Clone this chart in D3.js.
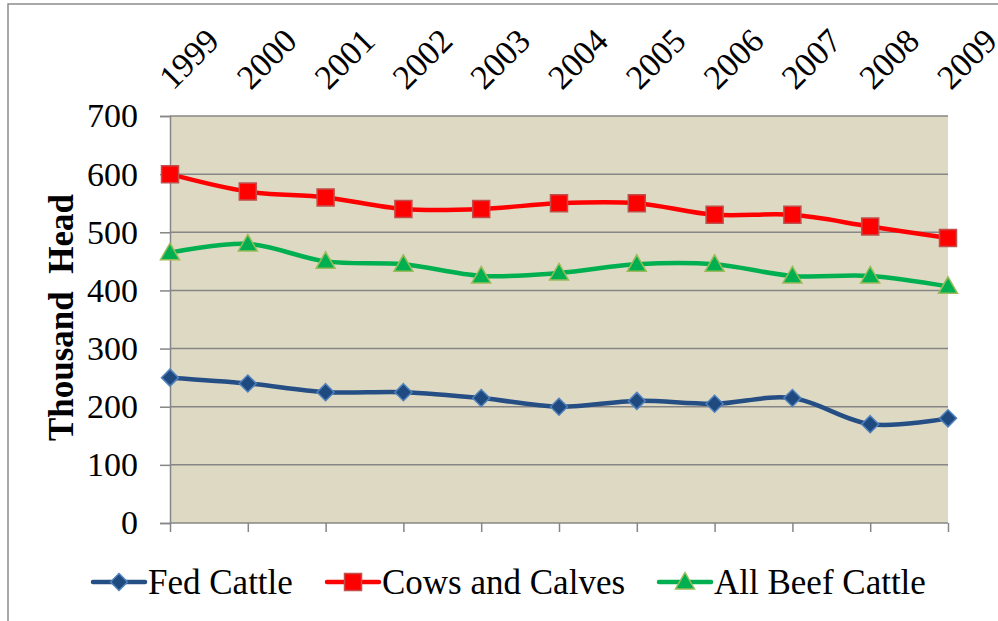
<!DOCTYPE html>
<html><head><meta charset="utf-8">
<script src="https://cdn.jsdelivr.net/npm/d3@7"></script>
<style>body{margin:0;background:#fff;}svg{display:block;}</style>
</head><body>
<svg id="c" width="998" height="621"></svg>
<script>
const years = ["1999","2000","2001","2002","2003","2004","2005","2006","2007","2008","2009"];
const fedCattle = [250,240,225,225,215,200,210,205,215,170,180];
const cowsCalves = [600,570,560,540,540,550,550,530,530,510,490];
const allBeef = [465,480,450,445,425,430,445,445,425,425,407];
const yTicks = [0,100,200,300,400,500,600,700];
const seriesNames = ["Fed Cattle","Cows and Calves","All Beef Cattle"];

const svg = d3.select("#c");
const L=170,R=948,T=116,B=523;
const x = d3.scalePoint().domain(years).range([L,R]);
const y = d3.scaleLinear().domain([0,700]).range([B,T]);
const font = "'Liberation Serif'";

// outer border
svg.append("rect").attr("x",8).attr("y",4).attr("width",1100).attr("height",700)
  .attr("fill","none").attr("stroke","#8c8c8c").attr("stroke-width",1.5);

// plot bg
svg.append("rect").attr("x",L).attr("y",T).attr("width",R-L).attr("height",B-T).attr("fill","#DDD9C3");

// y axis
const yAxis = d3.axisLeft(y).tickValues(yTicks).tickSize(10).tickPadding(22).tickFormat(d3.format("d"));
const gy = svg.append("g").attr("transform",`translate(${L},0)`).call(yAxis);
gy.attr("font-family",font).attr("font-size",34);
gy.select(".domain").attr("stroke","#868686").attr("stroke-width",1.5);
gy.selectAll(".tick line").attr("stroke","#868686").attr("stroke-width",1.5);
gy.selectAll(".tick text").attr("fill","#000");
// gridlines
svg.append("g").selectAll("line").data(yTicks.filter(d=>d>0)).join("line")
  .attr("x1",L).attr("x2",R).attr("y1",d=>y(d)).attr("y2",d=>y(d))
  .attr("stroke","#868686").attr("stroke-width",1.5);

// x axis bottom (ticks only)
const xAxis = d3.axisBottom(x).tickSize(9).tickFormat("");
const gx = svg.append("g").attr("transform",`translate(0,${B})`).call(xAxis);
gx.select(".domain").attr("d",`M${L},0H${R}`).attr("stroke","#868686").attr("stroke-width",1.5);
gx.selectAll(".tick line").attr("stroke","#868686").attr("stroke-width",1.5);

// x labels top rotated
svg.append("g").selectAll("text").data(years).join("text")
  .attr("transform",d=>`translate(${x(d)+3},${91}) rotate(-45)`)
  .attr("font-family",font).attr("font-size",34).attr("fill","#000")
  .text(d=>d);

// y title
svg.append("text").attr("transform",`translate(73,${(T+B)/2 - 2}) rotate(-90)`)
  .attr("text-anchor","middle").attr("font-family",font).attr("font-size",35)
  .attr("font-weight","bold").attr("fill","#000")
  .style("white-space","pre").text("Thousand  Head");

const line = d3.line().x((d,i)=>x(years[i])).y(d=>y(d)).curve(d3.curveCardinal.tension(0));

const styles = [
  {data:fedCattle, color:"#254E84", fill:"#1F4A80", stroke:"#4F81BD", shape:"diamond"},
  {data:cowsCalves, color:"#FF0000", fill:"#FF0000", stroke:"#C0504D", shape:"square"},
  {data:allBeef, color:"#00B050", fill:"#00B050", stroke:"#9BBB59", shape:"triangle"}
];
function markerPath(shape){
  if(shape==="diamond") return "M0,-8.5L8.5,0L0,8.5L-8.5,0Z";
  if(shape==="square") return "M-8.5,-8.5H8.5V8.5H-8.5Z";
  return "M0,-9.5L9.5,7L-9.5,7Z";
}
styles.forEach(s=>{
  svg.append("path").attr("d",line(s.data)).attr("fill","none").attr("stroke",s.color).attr("stroke-width",4.5).attr("stroke-linejoin","round");
});
styles.forEach(s=>{
  svg.append("g").selectAll("path").data(s.data).join("path")
    .attr("transform",(d,i)=>`translate(${x(years[i])},${y(d)})`)
    .attr("d",markerPath(s.shape)).attr("fill",s.fill).attr("stroke",s.stroke).attr("stroke-width",1.5);
});

// legend
const legX = [93,327,659];
const ly = 582;
styles.forEach((s,i)=>{
  const g = svg.append("g").attr("transform",`translate(${legX[i]},${ly})`);
  g.append("line").attr("x1",0).attr("x2",52).attr("stroke",s.color).attr("stroke-width",4.5).attr("stroke-linecap","round");
  g.append("path").attr("transform","translate(26,0)").attr("d",markerPath(s.shape)).attr("fill",s.fill).attr("stroke",s.stroke).attr("stroke-width",1.5);
  g.append("text").attr("x",55).attr("y",0).attr("dy","0.35em").attr("font-family",font).attr("font-size",35).attr("fill","#000").text(seriesNames[i]);
});
</script>
</body></html>
